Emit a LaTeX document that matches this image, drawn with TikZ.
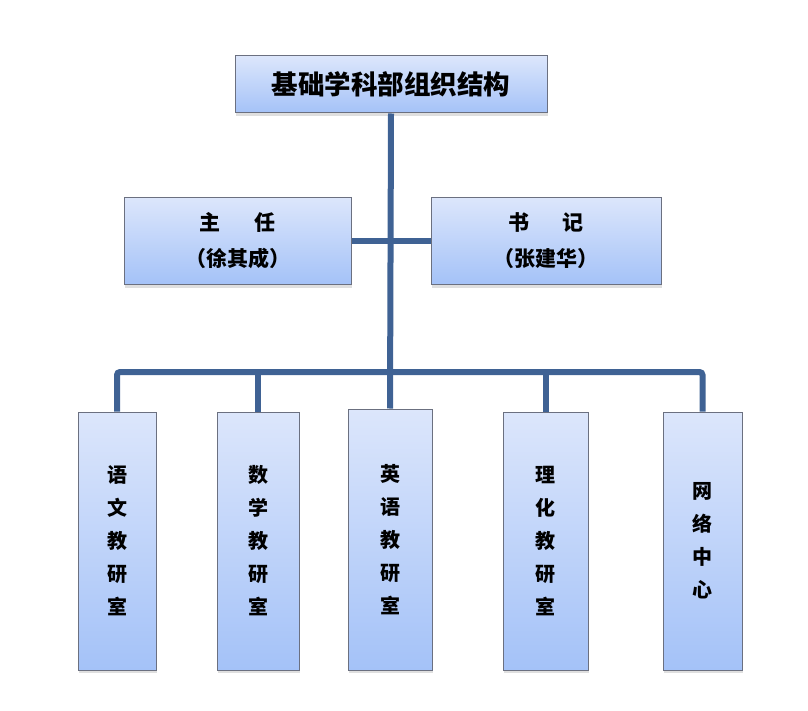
\documentclass[tikz,border=0pt]{standalone}
\usepackage{fontspec}
\newfontfamily\cjk{Noto Sans CJK SC}
\usetikzlibrary{positioning, shadows}

\definecolor{boxtop}{HTML}{DCE6FB}
\definecolor{boxbot}{HTML}{A4C2F8}
\definecolor{boxedge}{HTML}{6B7080}
\definecolor{linkblue}{HTML}{3F6294}

\tikzset{
    box/.style={draw=boxedge, line width=1pt, top color=boxtop, bottom color=boxbot,
        drop shadow={shadow xshift=1pt, shadow yshift=-3pt, opacity=0.25},
        align=center, inner sep=0pt},
    titlebox/.style={box, minimum width=312pt, minimum height=57pt, font=\cjk\bfseries\fontsize{26.5}{30}\selectfont},
    leadbox/.style={box, minimum height=87pt, font=\cjk\bfseries\fontsize{21}{36}\selectfont},
    officebox/.style={box, minimum height=258pt, font=\cjk\bfseries\fontsize{20}{33}\selectfont},
    link/.style={draw=linkblue, line width=6pt}
}

\begin{document}
\begin{tikzpicture}[x=1pt, y=-1pt]
    \useasboundingbox (0,0) rectangle (808,711);

    % Top
    \node[titlebox] (title) at (391,84.5) {基础学科部组织结构};

    % Leaders
    \node[leadbox, minimum width=227pt] (zhuren) at (237.5,241) {主\hspace{1.6em}任\\（徐其成）};
    \node[leadbox, minimum width=230pt] (shuji) at (546,241) {书\hspace{1.6em}记\\（张建华）};

    % Offices
    \node[officebox, minimum width=78pt] (yuwen) at (117,541) {语\\文\\教\\研\\室};
    \node[officebox, minimum width=82pt] (shuxue) at (258,541) {数\\学\\教\\研\\室};
    \node[officebox, minimum width=84pt, minimum height=261pt] (yingyu) at (390,539.5) {英\\语\\教\\研\\室};
    \node[officebox, minimum width=85pt] (lihua) at (545.5,541) {理\\化\\教\\研\\室};
    \node[officebox, minimum width=79pt] (wangluo) at (702.5,541) {网\\络\\中\\心};

    % Connectors
    \coordinate (bus) at (390,372);
    \draw[link] (title.south) -- (yingyu.north);
    \draw[link] (zhuren.east) -- (shuji.west);
    \draw[link, rounded corners=3pt] (yuwen.north) |- (bus) -| (wangluo.north);
    \draw[link] (shuxue.north) -- (shuxue.north |- bus);
    \draw[link] (lihua.north) -- (lihua.north |- bus);
\end{tikzpicture}
\end{document}
